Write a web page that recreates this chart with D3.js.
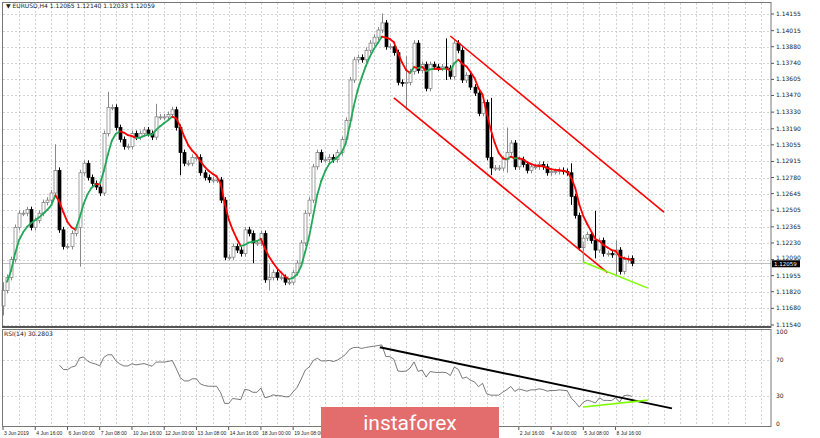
<!DOCTYPE html>
<html><head><meta charset="utf-8">
<script src="https://cdn.jsdelivr.net/npm/d3@7"></script>
<style>body{margin:0;background:#fff}svg{display:block;font-family:"DejaVu Sans",sans-serif}</style>
</head><body><svg id="c" width="820" height="438"></svg>
<script>
// ---- data ----
const firstOpen = 1.1170;
const closes = [
1.1183,1.1194,1.1209,1.1236,1.1248,1.1248,1.1251,1.1236,1.1242,1.1248,1.1257,1.1259,1.1265,1.1284,1.1234,1.1220,1.1220,1.1231,1.1236,1.1282,1.1290,1.1278,1.1273,1.1270,1.1265,1.1315,1.1337,1.1337,1.1320,1.1310,1.1304,1.1304,1.1315,1.1312,1.1315,1.1318,1.1315,1.1312,1.1329,1.1329,1.1329,1.1331,1.1335,1.1320,1.1299,1.1290,1.1290,1.1295,1.1295,1.1282,1.1278,
1.1276,1.1276,1.1276,1.1259,1.1211,1.1211,1.1220,1.1217,1.1214,1.1234,1.1231,1.1223,1.1223,1.1231,1.1192,1.1194,1.1198,1.1194,1.1194,1.1190,1.1190,1.1198,1.1206,1.1223,1.1248,1.1259,1.1287,1.1299,1.1293,1.1293,1.1295,1.1293,1.1299,1.1310,1.1326,1.1360,1.1377,1.1379,1.1377,1.1385,1.1391,1.1396,1.1402,1.1408,1.1388,1.1388,1.1383,
1.1358,1.1357,1.1358,1.1367,1.1391,1.1368,1.1373,1.1353,1.1373,1.1371,1.1370,1.1371,1.1370,1.1363,1.1391,1.1385,1.1360,1.1364,1.1354,1.1349,1.1332,1.1341,1.1295,1.1286,1.1286,1.1286,1.1293,1.1299,1.1307,1.1287,1.1293,1.1289,1.1284,1.1287,
1.1287,1.1289,1.1287,1.1282,1.1283,1.1283,1.1284,1.1283,1.1282,1.1262,1.1246,1.1219,1.1227,1.1230,1.1225,1.1217,1.1225,1.1214,1.1214,1.1213,1.1217,1.1199,1.1209,1.1210,1.12059];
// notable wick extremes: [index, high, low]
const wicks = [[0,1.1190,1.1162],[13,1.1306,1.1280],[19,1.1284,1.1203],[26,1.1350,1.1315],[38,1.1340,1.1318],[44,1.1310,1.1280],
[62,1.1232,1.1206],[66,1.1205,1.1183],[86,1.1345,1.1325],[94,1.1416,1.1400],[100,1.1380,1.1335],[110,1.1395,1.1360],
[121,1.1345,1.1280],[125,1.1320,1.1282],[141,1.1290,1.1255],[147,1.1250,1.1210],[152,1.1225,1.1195]];
// date labels every 8 bars; labels hidden under the logo in the reference are null
const dateLabels = ["3 Jun 2019","4 Jun 16:00","6 Jun 00:00","7 Jun 08:00","10 Jun 16:00","12 Jun 00:00","13 Jun 08:00","14 Jun 16:00","18 Jun 00:00","19 Jun 08:00",null,null,null,null,null,null,"2 Jul 16:00","4 Jul 00:00","5 Jul 08:00","8 Jul 16:00"];
const priceTicks = [1.14155,1.14015,1.13880,1.13740,1.13605,1.13470,1.13330,1.13190,1.13055,1.12915,1.12780,1.12645,1.12505,1.12365,1.12230,1.12090,1.11955,1.11820,1.11680,1.11540];
const rsiTicks = [100,70,30,0];
const channelLower = [[97,1.1345],[150,1.1198]];
const channelUpper = [[111,1.1397],[164,1.1249]];
const greenPrice = [[144,1.1207],[160,1.1185]];
const rsiBlack = [[93.5,83.5],[166,17]];
const rsiGreen = [[144,18.5],[160,26]];
const title = "EURUSD,H4  1.12065 1.12140 1.12033 1.12059";

// ---- build ----
const svg = d3.select("#c");
const x = d3.scaleLinear().domain([0,190]).range([3,3+190*4.03]);
const y = d3.scaleLinear().domain([1.11540,1.14155]).range([325,14]);
const yr = d3.scaleLinear().domain([0,100]).range([424,332]);
const R = 771;
const bars = closes.map((c,i)=>{const o=i?closes[i-1]:firstOpen;return {i,o,c,h:Math.max(o,c)+0.00025,l:Math.min(o,c)-0.00025};});
wicks.forEach(([i,h,l])=>{bars[i].h=Math.max(bars[i].h,h);bars[i].l=Math.min(bars[i].l,l);});

const grid = svg.append("g").attr("stroke","#c8c8c8").attr("stroke-dasharray","2,2").attr("stroke-width",0.8);
priceTicks.forEach(p=>grid.append("line").attr("x1",3).attr("x2",R).attr("y1",Math.round(y(p))+.5).attr("y2",Math.round(y(p))+.5));
rsiTicks.slice(1,3).forEach(v=>grid.append("line").attr("x1",3).attr("x2",R).attr("y1",Math.round(yr(v))+.5).attr("y2",Math.round(yr(v))+.5));
for(let i=4;i<190;i+=4){const xx=Math.round(x(i))+.5;if(xx>=R)break;
  grid.append("line").attr("x1",xx).attr("x2",xx).attr("y1",3).attr("y2",326);
  grid.append("line").attr("x1",xx).attr("x2",xx).attr("y1",330).attr("y2",426);}
svg.append("line").attr("x1",3).attr("x2",R).attr("y1",Math.round(y(1.12059))+.5).attr("y2",Math.round(y(1.12059))+.5).attr("stroke","#c0c0c0");

const cg = svg.append("g");
bars.forEach(b=>{
  const cx=Math.round(x(b.i))+.5;
  cg.append("line").attr("x1",cx).attr("x2",cx).attr("y1",y(b.h)).attr("y2",y(b.l)).attr("stroke",b.c>=b.o?"#888":"#000");
  const top=y(Math.max(b.o,b.c)),bot=y(Math.min(b.o,b.c));
  cg.append("rect").attr("x",cx-1.5).attr("y",top).attr("width",3).attr("height",Math.max(1,bot-top))
    .attr("fill",b.c>=b.o?"#fff":"#000").attr("stroke",b.c>=b.o?"#777":"#000").attr("stroke-width",0.7);
});

// smoothed MA (weighted, period 7) coloured by slope
const P=7, ma=closes.map((c,i)=>{const n=Math.min(P,i+1);let s=0,w=0;for(let k=0;k<n;k++){s+=closes[i-k]*(n-k);w+=n-k;}return s/w;});
const curve=d3.line().curve(d3.curveMonotoneX).x(d=>x(d[0])).y(d=>y(d[1]));
for(let i=2;i<ma.length;i++){
  svg.append("path").attr("d",curve([[i-1,ma[i-1]],[i,ma[i]]])).attr("fill","none")
    .attr("stroke",ma[i]<ma[i-1]?"#ff0000":"#22a858").attr("stroke-width",1.8).attr("stroke-linecap","round");
}

const ln=(pts,sy,col,w)=>svg.append("line").attr("x1",x(pts[0][0])).attr("y1",sy(pts[0][1])).attr("x2",x(pts[1][0])).attr("y2",sy(pts[1][1])).attr("stroke",col).attr("stroke-width",w);
ln(channelLower,y,"#ff0000",1.6);ln(channelUpper,y,"#ff0000",1.6);
ln(greenPrice,y,"#7fff00",1.6);
svg.append("line").attr("x1",x(144)).attr("x2",x(144)).attr("y1",y(1.1207)).attr("y2",y(1.1224)).attr("stroke","#888");

// RSI(14)
const N=14, rsi=[];let ag=0,al=0;
for(let i=1;i<closes.length;i++){const d=closes[i]-closes[i-1],g=Math.max(d,0),l=Math.max(-d,0);
  if(i<=N){ag+=g/N;al+=l/N;if(i===N)rsi[i]=100-100/(1+ag/(al||1e-9));}
  else{ag=(ag*(N-1)+g)/N;al=(al*(N-1)+l)/N;rsi[i]=100-100/(1+ag/(al||1e-9));}}
const rl=d3.line().defined(d=>d!=null).x((d,i)=>x(i)).y(d=>yr(d));
svg.append("path").attr("d",rl(Array.from(rsi,v=>v==null?null:v))).attr("fill","none").attr("stroke","#555").attr("stroke-width",0.8);
ln(rsiBlack,yr,"#000",2);ln(rsiGreen,yr,"#7fff00",1.6);

svg.append("rect").attr("x",2.5).attr("y",2.5).attr("width",R-2.5).attr("height",325).attr("fill","none").attr("stroke","#777");
svg.append("line").attr("x1",2).attr("x2",R).attr("y1",327).attr("y2",327).attr("stroke","#555").attr("stroke-width",2);
svg.append("rect").attr("x",2.5).attr("y",329.5).attr("width",R-2.5).attr("height",97).attr("fill","none").attr("stroke","#777");

const ax=svg.append("g").attr("font-size",6).attr("fill","#222");
priceTicks.forEach(p=>{ax.append("line").attr("x1",R).attr("x2",R+3).attr("y1",y(p)).attr("y2",y(p)).attr("stroke","#555");
  ax.append("text").attr("x",R+5).attr("y",y(p)+(p===1.12090?0:2)).text(p.toFixed(5));});
rsiTicks.forEach(v=>ax.append("text").attr("x",R+5).attr("y",yr(v)+2).text(v));
dateLabels.forEach((t,k)=>{const xx=x(k*8);ax.append("line").attr("x1",xx).attr("x2",xx).attr("y1",427).attr("y2",430).attr("stroke","#555");
  if(t) ax.append("text").attr("x",xx+1).attr("y",435).attr("font-family","Liberation Sans,Arial,sans-serif").attr("font-size",5).text(t);});
svg.append("rect").attr("x",R+1).attr("y",y(1.12059)-3).attr("width",28).attr("height",7).attr("fill","#000");
svg.append("text").attr("x",R+3).attr("y",y(1.12059)+2.5).attr("font-size",5.5).attr("fill","#fff").text("1.12059");
svg.append("text").attr("x",6).attr("y",8).attr("font-size",6).attr("fill","#222").text("▼ "+title);
svg.append("text").attr("x",4).attr("y",336).attr("font-size",6).attr("fill","#222").text("RSI(14) 30.2803");

svg.append("rect").attr("x",321).attr("y",407).attr("width",178).attr("height",31).attr("fill","#e36c6c");
svg.append("text").attr("x",410).attr("y",430).attr("text-anchor","middle").attr("font-family","Roboto,sans-serif").attr("font-size",21).attr("fill","#fff").text("instaforex");
</script></body></html>
